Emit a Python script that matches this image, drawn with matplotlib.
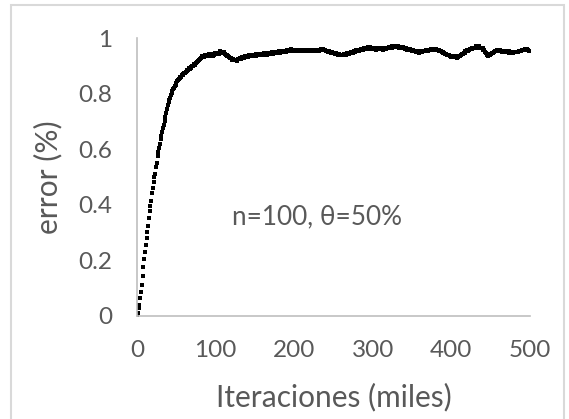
import matplotlib
matplotlib.use("Agg")
import matplotlib.pyplot as plt
from matplotlib.patches import Rectangle

# iteraciones (miles), one point per thousand
iteraciones = list(range(0, 501))

error = [
    0.000, 0.012, 0.028, 0.041, 0.066, 0.085, 0.113, 0.142, 0.176, 0.205,
    0.231, 0.254, 0.282, 0.301, 0.325, 0.352, 0.378, 0.397, 0.412, 0.441,
    0.462, 0.481, 0.499, 0.512, 0.536, 0.552, 0.574, 0.591, 0.606, 0.619,
    0.636, 0.648, 0.661, 0.677, 0.689, 0.702, 0.716, 0.731, 0.744, 0.758,
    0.769, 0.779, 0.786, 0.794, 0.801, 0.809, 0.816, 0.822, 0.828, 0.832,
    0.838, 0.846, 0.849, 0.852, 0.857, 0.861, 0.859, 0.866, 0.871, 0.868,
    0.874, 0.873, 0.879, 0.882, 0.884, 0.886, 0.891, 0.888, 0.893, 0.896,
    0.898, 0.901, 0.903, 0.906, 0.903, 0.909, 0.913, 0.916, 0.919, 0.922,
    0.926, 0.928, 0.931, 0.934, 0.936, 0.933, 0.938, 0.935, 0.934, 0.938,
    0.939, 0.935, 0.942, 0.938, 0.934, 0.941, 0.943, 0.937, 0.941, 0.945,
    0.942, 0.947, 0.943, 0.948, 0.944, 0.950, 0.952, 0.947, 0.951, 0.946,
    0.949, 0.945, 0.944, 0.940, 0.941, 0.936, 0.935, 0.931, 0.930, 0.927,
    0.928, 0.923, 0.926, 0.921, 0.920, 0.922, 0.923, 0.919, 0.925, 0.924,
    0.926, 0.929, 0.926, 0.931, 0.928, 0.933, 0.930, 0.934, 0.936, 0.933,
    0.937, 0.933, 0.938, 0.939, 0.935, 0.938, 0.940, 0.936, 0.941, 0.937,
    0.940, 0.942, 0.937, 0.941, 0.943, 0.938, 0.942, 0.944, 0.940, 0.939,
    0.943, 0.945, 0.940, 0.944, 0.946, 0.941, 0.945, 0.947, 0.942, 0.946,
    0.943, 0.947, 0.949, 0.944, 0.948, 0.945, 0.950, 0.946, 0.949, 0.951,
    0.948, 0.952, 0.947, 0.951, 0.953, 0.949, 0.954, 0.950, 0.955, 0.951,
    0.953, 0.956, 0.952, 0.957, 0.953, 0.958, 0.960, 0.955, 0.959, 0.956,
    0.954, 0.958, 0.953, 0.957, 0.952, 0.956, 0.958, 0.953, 0.957, 0.954,
    0.952, 0.957, 0.953, 0.958, 0.955, 0.953, 0.958, 0.954, 0.959, 0.955,
    0.958, 0.954, 0.959, 0.955, 0.953, 0.958, 0.954, 0.952, 0.957, 0.953,
    0.956, 0.958, 0.955, 0.959, 0.961, 0.956, 0.960, 0.961, 0.956, 0.957,
    0.954, 0.953, 0.955, 0.950, 0.952, 0.949, 0.951, 0.947, 0.949, 0.946,
    0.945, 0.947, 0.943, 0.945, 0.942, 0.944, 0.940, 0.942, 0.939, 0.941,
    0.938, 0.941, 0.939, 0.943, 0.940, 0.944, 0.941, 0.946, 0.942, 0.947,
    0.943, 0.948, 0.945, 0.949, 0.951, 0.948, 0.952, 0.954, 0.951, 0.956,
    0.953, 0.957, 0.954, 0.959, 0.956, 0.960, 0.957, 0.962, 0.959, 0.963,
    0.960, 0.964, 0.966, 0.961, 0.967, 0.963, 0.968, 0.964, 0.962, 0.965,
    0.961, 0.965, 0.960, 0.964, 0.959, 0.963, 0.960, 0.964, 0.961, 0.965,
    0.960, 0.964, 0.961, 0.959, 0.964, 0.960, 0.965, 0.961, 0.964, 0.966,
    0.963, 0.967, 0.964, 0.968, 0.965, 0.970, 0.967, 0.971, 0.967, 0.970,
    0.971, 0.967, 0.970, 0.966, 0.969, 0.965, 0.968, 0.964, 0.967, 0.963,
    0.966, 0.962, 0.965, 0.961, 0.959, 0.962, 0.957, 0.960, 0.956, 0.957,
    0.954, 0.957, 0.953, 0.952, 0.955, 0.950, 0.953, 0.949, 0.952, 0.948,
    0.952, 0.949, 0.953, 0.949, 0.952, 0.954, 0.953, 0.952, 0.957, 0.954,
    0.958, 0.955, 0.959, 0.956, 0.960, 0.957, 0.961, 0.958, 0.962, 0.959,
    0.958, 0.961, 0.957, 0.958, 0.955, 0.956, 0.952, 0.953, 0.949, 0.950,
    0.946, 0.947, 0.944, 0.944, 0.941, 0.941, 0.938, 0.939, 0.935, 0.936,
    0.933, 0.936, 0.932, 0.935, 0.931, 0.935, 0.932, 0.930, 0.934, 0.933,
    0.937, 0.937, 0.938, 0.939, 0.944, 0.944, 0.948, 0.948, 0.952, 0.952,
    0.956, 0.955, 0.959, 0.956, 0.961, 0.960, 0.964, 0.961, 0.965, 0.965,
    0.966, 0.966, 0.970, 0.967, 0.971, 0.967, 0.970, 0.966, 0.966, 0.965,
    0.965, 0.959, 0.956, 0.949, 0.946, 0.940, 0.939, 0.934, 0.938, 0.938,
    0.942, 0.942, 0.946, 0.946, 0.950, 0.950, 0.953, 0.953, 0.956, 0.955,
    0.956, 0.953, 0.957, 0.952, 0.955, 0.951, 0.954, 0.950, 0.953, 0.949,
    0.952, 0.951, 0.951, 0.948, 0.952, 0.947, 0.951, 0.948, 0.948, 0.947,
    0.949, 0.949, 0.950, 0.950, 0.951, 0.951, 0.954, 0.954, 0.955, 0.955,
    0.958, 0.957, 0.958, 0.958, 0.961, 0.961, 0.961, 0.960, 0.959, 0.955,
    0.952,
]

x_ticks = [0, 100, 200, 300, 400, 500]
y_ticks = [0, 0.2, 0.4, 0.6, 0.8, 1]
y_tick_labels = ["0", "0.2", "0.4", "0.6", "0.8", "1"]

gris = "#595959"
plt.rcParams["font.family"] = ["Lato", "DejaVu Sans"]

fig = plt.figure(figsize=(5.69, 4.19), dpi=100)
ax = fig.add_axes([0.241, 0.246, 0.690, 0.663])

ax.plot(iteraciones, error, linestyle="none", marker="s", ms=3.0,
        color="black", mec="black", mew=0)

ax.set_xlim(0, 500)
ax.set_ylim(0, 1)
ax.set_xticks(x_ticks)
ax.set_yticks(y_ticks)
ax.set_yticklabels(y_tick_labels)
ax.tick_params(length=0, labelsize=17.5, labelcolor=gris)
ax.tick_params(axis="x", pad=17)
ax.tick_params(axis="y", pad=18)

for side in ["top", "right"]:
    ax.spines[side].set_visible(False)
for side in ["left", "bottom"]:
    ax.spines[side].set_color("#bfbfbf")
    ax.spines[side].set_linewidth(1.2)

ax.set_xlabel("Iteraciones (miles)", fontsize=21.5, color=gris)
ax.set_ylabel("error (%)", fontsize=21.5, color=gris)
ax.xaxis.set_label_coords(0.5, -0.241)
ax.yaxis.set_label_coords(-0.191, 0.5)

ax.text(121, 0.356, "n=100, θ=50%", fontsize=18.8, color=gris, va="center", ha="left")

# chart area border
fig.patches.append(Rectangle((0.019, -0.02), 0.972, 1.008, transform=fig.transFigure,
                             fill=False, edgecolor="#d9d9d9", linewidth=1.5))

fig.savefig("out.png", dpi=100)
